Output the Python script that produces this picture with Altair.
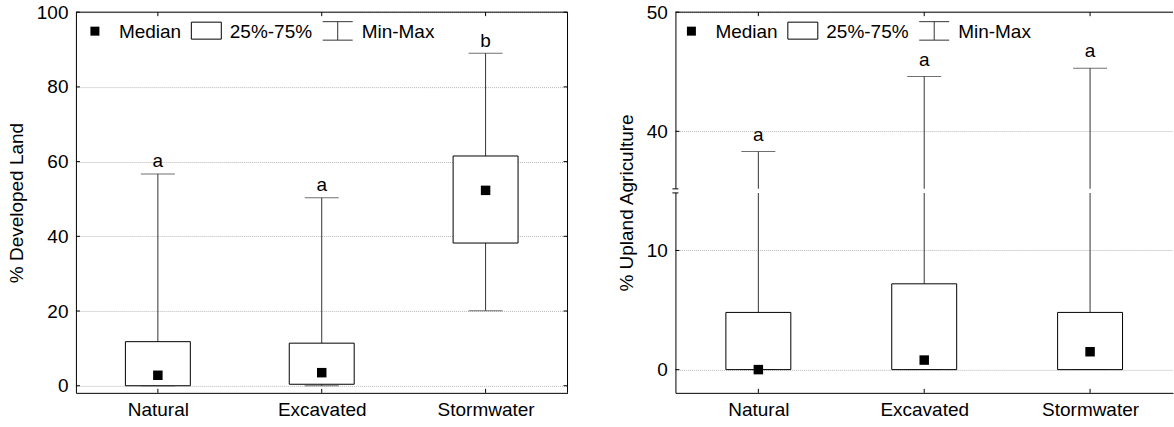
import altair as alt
import pandas as pd

FONT = "Liberation Sans"
FS = 19

groups = ["Natural", "Excavated", "Stormwater"]

# Left panel: % Developed Land
dev_min = [0.0, 0.0, 20.1]
dev_q1 = [0.0, 0.4, 38.2]
dev_med = [2.8, 3.5, 52.3]
dev_q3 = [11.8, 11.4, 61.5]
dev_max = [56.7, 50.3, 89.0]
dev_letters = ["a", "a", "b"]
dev_ticks = [0, 20, 40, 60, 80, 100]

# Right panel: % Upland Agriculture (broken axis 15 -> 35)
agr_min = [0.0, 0.0, 0.0]
agr_q1 = [0.0, 0.0, 0.0]
agr_med = [0.0, 0.8, 1.5]
agr_q3 = [4.8, 7.2, 4.8]
agr_max = [38.3, 44.6, 45.3]
agr_letters = ["a", "a", "a"]
agr_ticks = [0, 10, 40, 50]
BREAK_LOW, BREAK_HIGH = 15, 35

legend_labels = ["Median", "25%-75%", "Min-Max"]


def shift(v, brk):
    if brk and v >= BREAK_HIGH:
        return v - (BREAK_HIGH - BREAK_LOW)
    return v


def frame(mins, q1, med, q3, mx, letters, brk=False):
    return pd.DataFrame({
        "group": groups,
        "min_t": [shift(v, brk) for v in mins],
        "q1_t": [shift(v, brk) for v in q1],
        "med_t": [shift(v, brk) for v in med],
        "q3_t": [shift(v, brk) for v in q3],
        "max_t": [shift(v, brk) for v in mx],
        "letter": letters,
    })


one = pd.DataFrame({"k": [0]})


def make_panel(df, ticks, W, H, y_domain, title, letter_dy, lx, brk=False, right_border=True):
    xsc = alt.Scale(type="point", padding=0.5)
    ysc = alt.Scale(domain=y_domain, nice=False, zero=False)
    tvals = [shift(v, brk) for v in ticks]
    ykw = dict(values=tvals, title=title, grid=True, gridColor="#b8b8b8", gridDash=[1, 1],
               ticks=False, tickSize=0, labelPadding=8, titlePadding=10,
               domainColor="black", zindex=0)
    if brk:
        ykw["labelExpr"] = f"datum.value >= {BREAK_LOW} ? datum.value + {BREAK_HIGH - BREAK_LOW} : datum.value"
    yaxis = alt.Axis(**ykw)
    xaxis = alt.Axis(title=None, ticks=False, tickSize=0, labelPadding=8, labelAngle=0,
                     domainColor="black", grid=False, zindex=0)
    X = alt.X("group:N", sort=groups, scale=xsc, axis=xaxis)

    def Y(f):
        return alt.Y(f, scale=ysc, axis=yaxis)

    base = alt.Chart(df)
    wcol = "#333333"
    layers = []
    layers.append(base.mark_rule(color=wcol, strokeWidth=1).encode(x=X, y=Y("q3_t:Q"), y2="max_t:Q"))
    layers.append(base.mark_rule(color=wcol, strokeWidth=1).encode(x=X, y=Y("min_t:Q"), y2="q1_t:Q"))
    layers.append(base.mark_tick(color=wcol, size=34, thickness=1).encode(x=X, y=Y("max_t:Q")))
    layers.append(base.mark_tick(color=wcol, size=34, thickness=1).encode(x=X, y=Y("min_t:Q")))
    layers.append(base.mark_bar(size=65, fill="white", stroke="black", strokeWidth=1).encode(
        x=X, y=Y("q1_t:Q"), y2="q3_t:Q"))
    layers.append(base.mark_square(size=90, color="black", opacity=1).encode(x=X, y=Y("med_t:Q")))
    layers.append(base.mark_text(dy=letter_dy, baseline="alphabetic", fontSize=FS, font=FONT,
                                 color="black").encode(x=X, y=Y("max_t:Q"), text="letter:N"))
    # inward ticks
    tdf = pd.DataFrame({"v": tvals})
    layers.append(alt.Chart(tdf).mark_rule(color="black").encode(
        y=Y("v:Q"), x=alt.value(0), x2=alt.value(4)))
    if right_border:
        layers.append(alt.Chart(tdf).mark_rule(color="black").encode(
            y=Y("v:Q"), x=alt.value(W - 4), x2=alt.value(W)))
    layers.append(base.mark_rule(color="black").encode(x=X, y=alt.value(H - 4), y2=alt.value(H)))
    layers.append(base.mark_rule(color="black").encode(x=X, y=alt.value(0), y2=alt.value(4)))
    # frame top / right
    layers.append(alt.Chart(one).mark_rule(color="black").encode(
        x=alt.value(0), x2=alt.value(W), y=alt.value(0)))
    if right_border:
        layers.append(alt.Chart(one).mark_rule(color="black").encode(
            x=alt.value(W), y=alt.value(0), y2=alt.value(H)))
    # axis break
    if brk:
        g = 0.17
        layers.append(alt.Chart(one).mark_rect(color="white").encode(
            x=alt.value(-4), x2=alt.value(W), y=alt.datum(BREAK_LOW + g, scale=ysc, axis=yaxis),
            y2=alt.datum(BREAK_LOW - g)))
        for d in (BREAK_LOW + g, BREAK_LOW - g):
            layers.append(alt.Chart(one).mark_rule(color="black").encode(
                x=alt.value(-3), x2=alt.value(3), y=alt.datum(d, scale=ysc, axis=yaxis)))
    # legend
    ly = 20
    layers.append(alt.Chart(one).mark_square(size=81, color="black", opacity=1).encode(
        x=alt.value(lx + 19), y=alt.value(ly - 1)))
    layers.append(alt.Chart(one).mark_text(align="left", baseline="middle", fontSize=FS, font=FONT).encode(
        x=alt.value(lx + 43), y=alt.value(ly), text=alt.value(legend_labels[0])))
    layers.append(alt.Chart(one).mark_rect(fill="white", stroke="black", strokeWidth=1).encode(
        x=alt.value(lx + 115.5), x2=alt.value(lx + 145.5), y=alt.value(10), y2=alt.value(27)))
    layers.append(alt.Chart(one).mark_text(align="left", baseline="middle", fontSize=FS, font=FONT).encode(
        x=alt.value(lx + 154), y=alt.value(ly), text=alt.value(legend_labels[1])))
    layers.append(alt.Chart(one).mark_rule(color=wcol).encode(
        x=alt.value(lx + 262), y=alt.value(9.5), y2=alt.value(28)))
    for yy in (9.5, 28):
        layers.append(alt.Chart(one).mark_rule(color=wcol).encode(
            x=alt.value(lx + 247), x2=alt.value(lx + 277), y=alt.value(yy)))
    layers.append(alt.Chart(one).mark_text(align="left", baseline="middle", fontSize=FS, font=FONT).encode(
        x=alt.value(lx + 286), y=alt.value(ly), text=alt.value(legend_labels[2])))

    return alt.layer(*layers).properties(width=W, height=H)


dev_df = frame(dev_min, dev_q1, dev_med, dev_q3, dev_max, dev_letters)
agr_df = frame(agr_min, agr_q1, agr_med, agr_q3, agr_max, agr_letters, brk=True)

left = make_panel(dev_df, dev_ticks, 492, 381, [-1.9, 100], "% Developed Land", -6.5, 0)
right = make_panel(agr_df, agr_ticks, 498, 381, [-1.95, 30], "% Upland Agriculture", -11, -3,
                   brk=True, right_border=False)

chart = alt.hconcat(left, right, spacing=48).properties(
    padding={"left": 7, "top": 3, "right": 0, "bottom": 0}
).configure_view(stroke=None).configure_axis(
    labelFont=FONT, titleFont=FONT, labelFontSize=FS, titleFontSize=FS,
    titleFontWeight="normal", labelColor="black", titleColor="black"
)

chart.save("out.html", embed_options={"renderer": "svg", "actions": False})
